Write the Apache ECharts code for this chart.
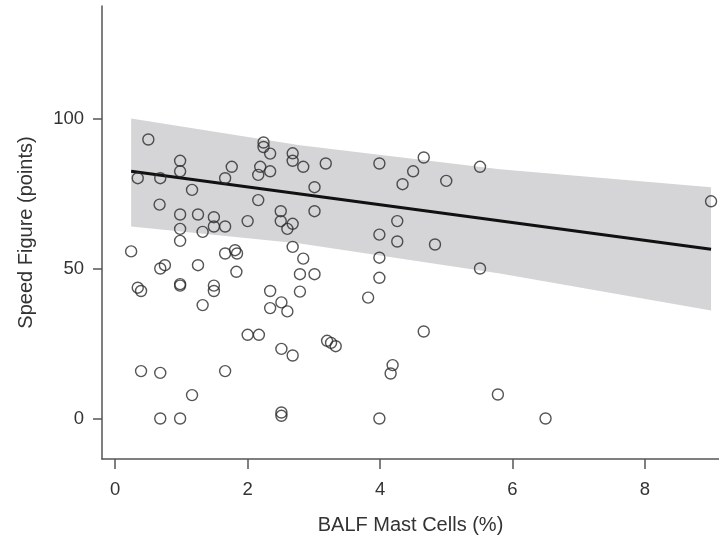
<!DOCTYPE html>
<html>
<head>
<meta charset="utf-8">
<script src="https://cdn.jsdelivr.net/npm/echarts@6/dist/echarts.min.js"></script>
<style>
  html, body { margin: 0; padding: 0; background: #fff; }
  #chart { width: 719px; height: 540px; }
</style>
</head>
<body>
<div id="chart"></div>
<script>
// scatter points, BALF mast cells (%) vs speed figure
const mastCells = [
  0.50, 2.24, 2.24, 2.34, 2.68, 2.68, 2.84, 0.98, 0.98, 0.34,
  0.68, 1.76, 1.66, 2.19, 2.16, 2.34, 3.01, 1.16, 0.67, 2.16,
  3.01, 0.98, 1.25, 1.49, 1.49, 1.66, 0.98, 1.32, 2.00, 2.50,
  2.50, 2.68, 2.60, 0.98, 2.68, 0.24, 1.66, 1.81, 1.84, 2.84,
  0.68, 0.75, 1.25, 1.83, 2.79, 3.01, 0.34, 0.39, 0.98, 0.98,
  1.49, 1.49, 2.34, 2.79, 3.18, 3.99, 4.66, 4.50, 4.34, 5.00,
  5.51, 4.26, 3.99, 4.26, 4.83, 5.51, 3.99, 3.99, 3.82, 9.00,
  5.78, 6.50, 1.32, 2.51, 2.34, 2.60, 2.00, 2.17, 2.51, 2.68,
  0.39, 0.68, 1.66, 1.16, 0.68, 0.98, 2.51, 2.51, 4.66, 3.20,
  3.26, 3.33, 4.19, 4.16, 3.99
];
const speedFigure = [
  93.0, 92.0, 90.5, 88.3, 88.4, 85.9, 83.9, 85.9, 82.4, 80.1,
  80.1, 83.9, 80.1, 83.9, 81.2, 82.4, 77.1, 76.2, 71.3, 72.8,
  69.1, 68.0, 68.0, 67.1, 64.0, 64.0, 63.2, 62.2, 65.8, 69.1,
  65.8, 64.9, 63.2, 59.2, 57.2, 55.7, 55.0, 56.1, 55.0, 53.3,
  50.0, 51.1, 51.1, 48.9, 48.1, 48.1, 43.6, 42.5, 44.8, 44.3,
  44.3, 42.5, 42.5, 42.3, 85.0, 85.0, 87.0, 82.4, 78.1, 79.2,
  83.9, 65.8, 61.3, 59.0, 58.0, 50.0, 53.6, 46.9, 40.3, 72.4,
  8.0, 0.0, 37.8, 38.7, 36.8, 35.7, 27.9, 27.9, 23.2, 21.0,
  15.8, 15.2, 15.8, 7.8, 0.0, 0.0, 2.0, 0.9, 29.0, 25.9,
  25.2, 24.1, 17.8, 15.0, 0.0
];

// fitted line and its confidence band
const fitX = [0.24, 9.0];
const fitY = [82.4, 56.4];
const bandX = [0.24, 2.79, 5.81, 9.0];
const bandUpper = [100.0, 91.1, 83.1, 77.1];
const bandLower = [64.0, 58.3, 48.3, 36.0];

const xTicks = [0, 2, 4, 6, 8];
const yTicks = [0, 50, 100];

const chart = echarts.init(document.getElementById('chart'));
const font = '"Liberation Sans", Arial, sans-serif';
const axisColor = '#555';

const option = {
  animation: false,
  grid: { left: 102, right: 0, top: 6, bottom: 78 },
  xAxis: {
    type: 'value',
    min: -0.2,
    max: 9.12,
    name: 'BALF Mast Cells (%)',
    nameLocation: 'middle',
    nameGap: 56,
    nameTextStyle: { fontFamily: font, fontSize: 20, color: '#333' },
    axisLine: { show: true, onZero: false, lineStyle: { color: axisColor, width: 1.5 } },
    axisTick: { show: true, length: 10, customValues: xTicks, lineStyle: { color: axisColor, width: 1.5 } },
    axisLabel: { customValues: xTicks, margin: 21, fontFamily: font, fontSize: 18.5, color: '#333' },
    splitLine: { show: false }
  },
  yAxis: {
    type: 'value',
    min: -13.5,
    max: 137.5,
    name: 'Speed Figure (points)',
    nameLocation: 'middle',
    nameGap: 66,
    nameTextStyle: { fontFamily: font, fontSize: 20, color: '#333' },
    axisLine: { show: true, onZero: false, lineStyle: { color: axisColor, width: 1.5 } },
    axisTick: { show: true, length: 9, customValues: yTicks, lineStyle: { color: axisColor, width: 1.5 } },
    axisLabel: { customValues: yTicks, margin: 18, fontFamily: font, fontSize: 18.5, color: '#333' },
    splitLine: { show: false }
  },
  series: [
    {
      type: 'custom',
      z: 1,
      silent: true,
      data: [0],
      renderItem: function (params, api) {
        const pts = [];
        for (let i = 0; i < bandX.length; i++) pts.push(api.coord([bandX[i], bandUpper[i]]));
        for (let i = bandX.length - 1; i >= 0; i--) pts.push(api.coord([bandX[i], bandLower[i]]));
        return { type: 'polygon', shape: { points: pts }, style: { fill: '#d5d5d7' } };
      }
    },
    {
      type: 'line',
      z: 3,
      symbol: 'none',
      data: fitX.map((x, i) => [x, fitY[i]]),
      lineStyle: { color: '#111', width: 3 }
    },
    {
      type: 'scatter',
      z: 4,
      symbol: 'circle',
      symbolSize: 11,
      data: mastCells.map((x, i) => [x, speedFigure[i]]),
      itemStyle: { color: 'rgba(0,0,0,0)', borderColor: '#2a2a2a', borderWidth: 1.4 }
    }
  ]
};
chart.setOption(option);
</script>
</body>
</html>
